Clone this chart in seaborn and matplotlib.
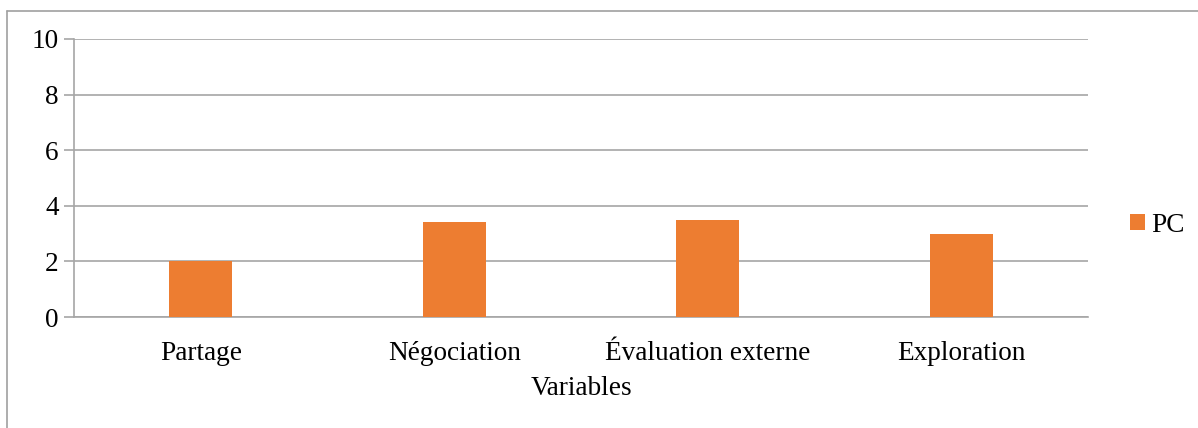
import matplotlib
matplotlib.use("Agg")
import matplotlib.pyplot as plt
from matplotlib.lines import Line2D
from matplotlib.patches import Patch
import seaborn as sns
import pandas as pd

categories = ["Partage", "Négociation", "Évaluation externe", "Exploration"]
pc_values = [2.0, 3.4, 3.5, 3.0]
series_name = "PC"
y_ticks = [0, 2, 4, 6, 8, 10]
x_title = "Variables"

sns.set_theme(style="white")
plt.rcParams["font.family"] = ["Liberation Serif", "DejaVu Serif"]
plt.rcParams["text.color"] = "black"

df = pd.DataFrame({"Variable": categories, "Valeur": pc_values})

fig = plt.figure(figsize=(11.98, 4.28), dpi=100)
ax = fig.add_axes([0.0618, 0.2593, 0.8464, 0.6496])

grid_color = "#a6a6a6"
bar_color = "#ED7D31"
fs = 19.6

sns.barplot(data=df, x="Variable", y="Valeur", color=bar_color, width=0.25,
            saturation=1, ax=ax, zorder=3, edgecolor="none")

ax.set_ylim(0, 10)
ax.set_xlim(-0.5, len(categories) - 0.5)
ax.set_yticks(y_ticks)
ax.set_yticklabels([str(t) for t in y_ticks])
ax.yaxis.grid(True, color=grid_color, linewidth=1.2, zorder=0)
ax.set_axisbelow(True)

for side in ("top", "right"):
    ax.spines[side].set_visible(False)
for side in ("left", "bottom"):
    ax.spines[side].set_color(grid_color)
    ax.spines[side].set_linewidth(1.2)

ax.tick_params(axis="y", which="major", left=True, length=7, width=1.2,
               color=grid_color, labelsize=fs, pad=4, labelcolor="black")
ax.tick_params(axis="x", which="major", bottom=False, labelsize=fs, pad=11,
               labelcolor="black")
ax.set_ylabel("")
ax.set_xlabel(x_title, fontsize=fs, color="black", labelpad=7.5)

handles = [Patch(facecolor=bar_color, edgecolor="none", label=series_name)]
fig.legend(handles=handles, loc="center left", bbox_to_anchor=(0.9345, 0.474),
           frameon=False, fontsize=fs, handlelength=0.55, handleheight=0.55,
           handletextpad=0.2, borderaxespad=0, labelcolor="black")

# outer chart frame
frame_color = "#a0a0a0"
fig.add_artist(Line2D([7 / 1198, 1.0], [1 - 10.5 / 428, 1 - 10.5 / 428],
                      transform=fig.transFigure, color=frame_color, linewidth=1.2))
fig.add_artist(Line2D([7 / 1198, 7 / 1198], [0.0, 1 - 10.5 / 428],
                      transform=fig.transFigure, color=frame_color, linewidth=1.2))

fig.savefig("out.png", dpi=100, facecolor="white")
